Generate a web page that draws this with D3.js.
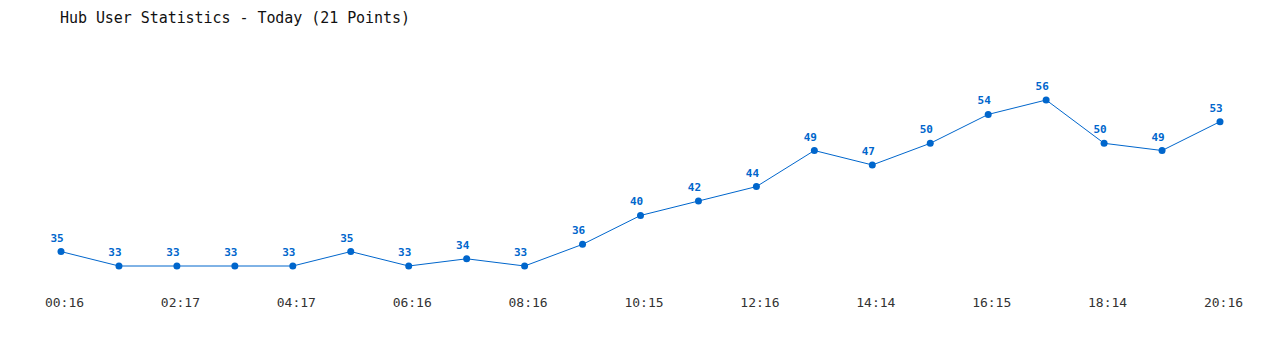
<!DOCTYPE html>
<html>
<head>
<meta charset="utf-8">
<script src="https://cdn.jsdelivr.net/npm/d3@7"></script>
<style>
  body { margin: 0; background: #fff; }
  svg { display: block; }
</style>
</head>
<body>
<svg id="chart" width="1280" height="350"></svg>
<script>
// users online, one reading per point
let userCounts = [35, 33, 33, 33, 33, 35, 33, 34, 33, 36, 40, 42, 44, 49, 47, 50, 54, 56, 50, 49, 53];
// only every second point gets a time label
let tickLabels = ["00:16", "02:17", "04:17", "06:16", "08:16", "10:15", "12:16", "14:14", "16:15", "18:14", "20:16"];
let chartTitle = "Hub User Statistics - Today (21 Points)";

let blue = "#0066cc";
let monoFont = "'DejaVu Sans Mono', 'Liberation Mono', monospace";

let svg = d3.select("#chart");

let x = d3.scaleLinear()
    .domain([0, userCounts.length - 1])
    .range([61, 1220]);

let y = d3.scaleLinear()
    .domain([d3.min(userCounts), d3.max(userCounts)])
    .range([266, 100]);

svg.append("text")
    .attr("x", 60)
    .attr("y", 23)
    .attr("textLength", 350)
    .style("font-family", monoFont)
    .style("font-size", "15px")
    .style("fill", "#111")
    .text(chartTitle);

// x axis labels, no line or ticks drawn
let xAxis = d3.axisBottom(x)
    .tickValues(d3.range(0, userCounts.length, 2))
    .tickFormat((d, i) => tickLabels[i])
    .tickSize(0);

let gx = svg.append("g")
    .attr("transform", "translate(3,295)")
    .call(xAxis);
gx.select(".domain").remove();
gx.selectAll("text")
    .style("font-family", monoFont)
    .style("font-size", "13px")
    .style("fill", "#333");

let line = d3.line()
    .x((d, i) => x(i))
    .y(d => y(d));

svg.append("path")
    .datum(userCounts)
    .attr("d", line)
    .style("fill", "none")
    .style("stroke", blue)
    .style("stroke-width", "1px");

svg.selectAll(".dot")
    .data(userCounts)
    .enter().append("circle")
    .attr("class", "dot")
    .attr("cx", (d, i) => x(i))
    .attr("cy", d => y(d))
    .attr("r", 3.5)
    .style("fill", blue);

svg.selectAll(".valueLabel")
    .data(userCounts)
    .enter().append("text")
    .attr("class", "valueLabel")
    .attr("x", (d, i) => x(i) - 4)
    .attr("y", d => y(d) - 10)
    .attr("text-anchor", "middle")
    .style("font-family", monoFont)
    .style("font-size", "11px")
    .style("font-weight", "bold")
    .style("fill", blue)
    .text(d => d);
</script>
</body>
</html>
